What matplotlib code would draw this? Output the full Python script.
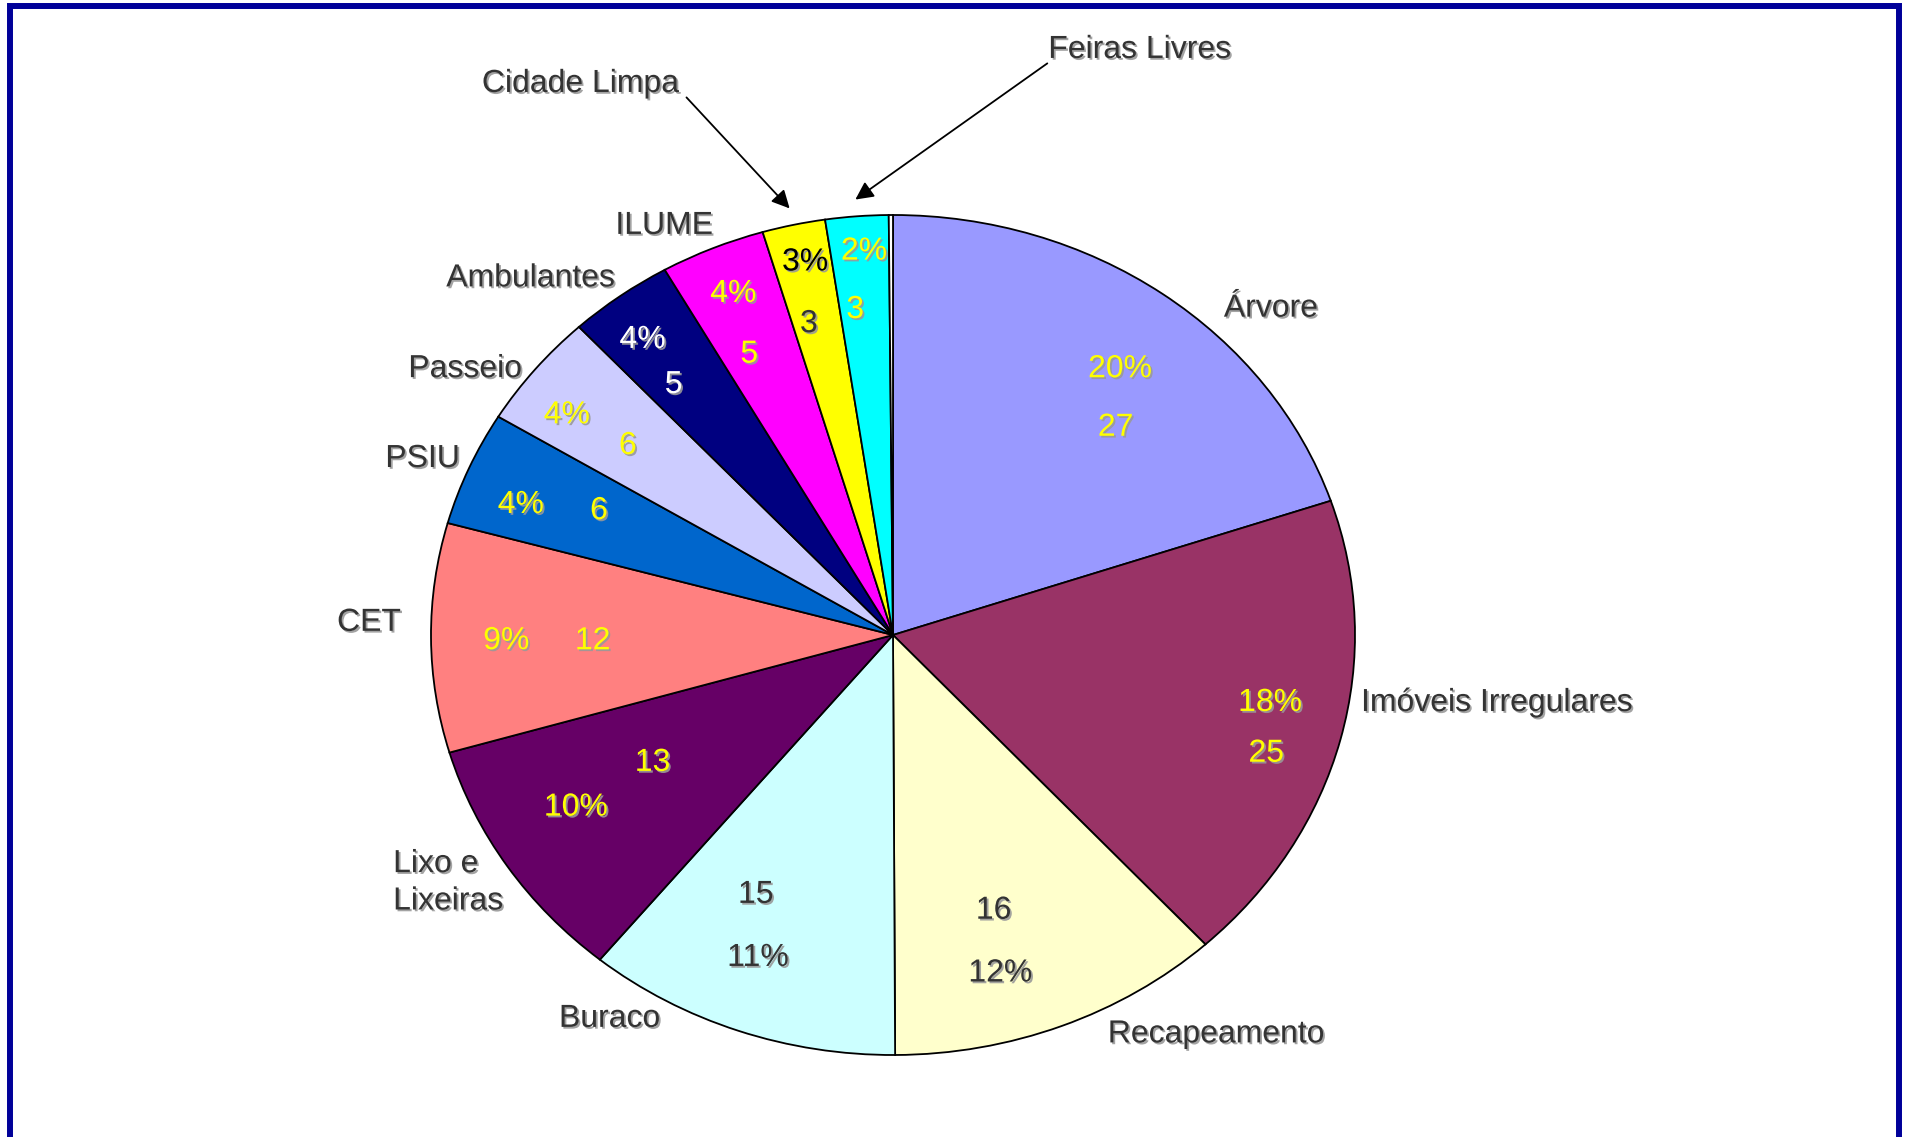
import numpy as np
import matplotlib
matplotlib.use("Agg")
from matplotlib import pyplot as plt
from matplotlib import patheffects as pe
from matplotlib.patches import Rectangle

plt.rcParams['font.family'] = ['Liberation Sans', 'DejaVu Sans']

# data
categories = ['Árvore', 'Imóveis Irregulares', 'Recapeamento', 'Buraco',
              'Lixo e\nLixeiras', 'CET', 'PSIU', 'Passeio', 'Ambulantes',
              'ILUME', 'Cidade Limpa', 'Feiras Livres', '']
values = [27, 25, 16, 15, 13, 12, 6, 6, 5, 5, 3, 3, 0.2]
pct_labels = ['20%', '18%', '12%', '11%', '10%', '9%', '4%', '4%', '4%',
              '4%', '3%', '2%', '']
colors = ['#9999FF', '#993366', '#FFFFCC', '#CCFFFF', '#660066', '#FF8080',
          '#0066CC', '#CCCCFF', '#000080', '#FF00FF', '#FFFF00', '#00FFFF',
          '#FFFFFF']

# label styling / placement (radius fraction, clockwise angle offset)
pct_colors = ['#FFFF00', '#FFFF00', '#333333', '#333333', '#FFFF00', '#FFFF00',
              '#FFFF00', '#FFFF00', '#FFFFFF', '#FFFF00', '#000000', '#FFFF00', 'k']
val_colors = ['#FFFF00', '#FFFF00', '#333333', '#333333', '#FFFF00', '#FFFF00',
              '#FFFF00', '#FFFF00', '#FFFFFF', '#FFFF00', '#333333', '#FFFF00', 'k']
pct_pos = [(0.806, 1.9), (0.831, -3.6), (0.833, 5.2), (0.817, 1.4),
           (0.797, 2.9), (0.837, -0.2), (0.865, -2.0), (0.882, -2.4),
           (0.892, -1.2), (0.888, 0.1), (0.913, 0.4), (0.921, 0.6), (0, 0)]
val_pos = [(0.694, 8.3), (0.854, 4.5), (0.686, 2.9), (0.681, 6.3),
           (0.600, 3.6), (0.650, -0.4), (0.704, 1.9), (0.733, -0.8),
           (0.766, -2.1), (0.742, -1.8), (0.768, -1.3), (0.784, -1.5), (0, 0)]
name_pos = [(0.818, 0.783, 'center'), (1.013, -0.156, 'left'),
            (0.700, -0.945, 'center'), (-0.613, -0.908, 'center'),
            (-1.082, -0.584, 'left'), (-1.134, 0.035, 'center'),
            (-1.018, 0.425, 'center'), (-0.926, 0.639, 'center'),
            (-0.784, 0.855, 'center'), (-0.495, 0.980, 'center'),
            (-0.676, 1.318, 'center'), (0.534, 1.399, 'center'), None]
arrow_from = {10: (-0.447, 1.280), 11: (0.334, 1.361)}

W, H = 1905, 1137
fig = plt.figure(figsize=(W / 100, H / 100), dpi=100)
cx, cy, rx, ry = 893, 1137 - 635, 462, 420
ax = fig.add_axes([(cx - rx) / W, (cy - ry) / H, 2 * rx / W, 2 * ry / H])

wedges, _ = ax.pie(values, colors=colors, startangle=90, counterclock=False,
                   radius=1, wedgeprops=dict(edgecolor='black', linewidth=1.3))
ax.set_aspect('auto')
ax.set_xlim(-1, 1)
ax.set_ylim(-1, 1)
ax.axis('off')

shadow = [pe.withSimplePatchShadow(offset=(1.3, -1.3), shadow_rgbFace='#999999', alpha=0.9)]
fs = 23
dy = -0.006  # small downward nudge for text


def polar(r, ang):
    a = np.deg2rad(ang)
    return r * np.cos(a), r * np.sin(a)


for i, w in enumerate(wedges):
    if not categories[i]:
        continue
    mid = (w.theta1 + w.theta2) / 2
    r, off = pct_pos[i]
    x, y = polar(r, mid - off)
    ax.text(x, y + dy, pct_labels[i], color=pct_colors[i], fontsize=fs,
            ha='center', va='center', path_effects=shadow)
    r, off = val_pos[i]
    x, y = polar(r, mid - off)
    ax.text(x, y + dy, str(values[i]), color=val_colors[i], fontsize=fs,
            ha='center', va='center', path_effects=shadow)
    x, y, ha = name_pos[i]
    ax.text(x, y + dy, categories[i], color='#333333', fontsize=fs, ha=ha, va='center',
            linespacing=1.32, path_effects=shadow)
    if i in arrow_from:
        ax.annotate('', xy=polar(1.04, mid), xytext=arrow_from[i],
                    annotation_clip=False,
                    arrowprops=dict(arrowstyle='-|>', color='black', lw=1.3,
                                    mutation_scale=27, shrinkA=0, shrinkB=0))

# blue frame
fig.patches.append(Rectangle((9.5, -20), 1889.5, 1137 + 20 - 5.5, transform=None,
                             fill=False, edgecolor='#000099', linewidth=4.3))

fig.savefig('out.png', dpi=100, facecolor='white')
